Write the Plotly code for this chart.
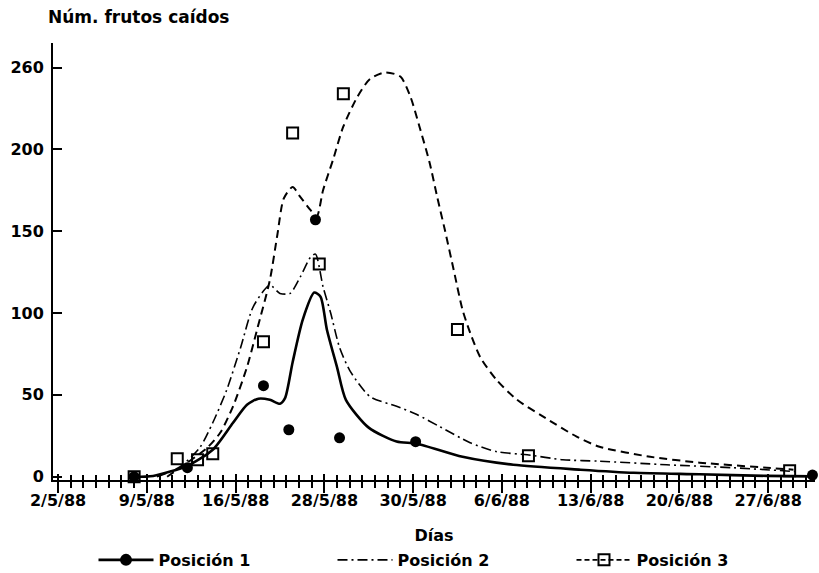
import plotly.graph_objects as go

# ---- axis labels ----
tick_days = [0, 7, 14, 21, 28, 35, 42, 49, 56]
tick_labels = ["2/5/88", "9/5/88", "16/5/88", "28/5/88", "30/5/88",
               "6/6/88", "13/6/88", "20/6/88", "27/6/88"]
y_tickvals = [0, 50, 100, 150, 200, 250]
y_ticktext = ["0", "50", "100", "150", "200", "260"]

# ---- observed points (day since 2/5/88, number of fallen fruits) ----
p1_days = [6.0, 10.2, 16.2, 18.2, 20.3, 22.2, 28.2, 59.5]
p1_vals = [0, 5.5, 55.6, 28.7, 157, 23.8, 21.4, 1]

p3_days = [6.0, 9.4, 11.0, 12.2, 16.2, 18.5, 20.6, 22.5, 28.7, 31.5, 37.1, 57.7]
p3_vals = [0, 11, 10.4, 14, 82.5, 210, 130, 234, 268, 90, 12.8, 3.7]

# ---- fitted curves ----
c1_days = [5.7, 7.5, 10.2, 12.2, 13.8, 14.9, 15.8, 16.7, 17.5, 17.9, 18.5, 19.3,
           20.2, 20.7, 21.2, 22.0, 22.7, 24.5, 26.7, 28.3, 31.9, 35.9, 41.2,
           45.4, 50.6, 55.9, 59.5]
c1_vals = [0, 0.5, 6.7, 16.5, 33, 44, 47.7, 47, 44.6, 48, 70, 96,
           112.5, 110, 90, 67, 47, 30, 21.5, 20.2, 12.2, 7.3, 4.3,
           2.4, 1.5, 0.5, 0.2]

c2_days = [7.8, 9.6, 11.2, 12.2, 13.3, 14.4, 15.4, 16.7, 17.5, 18.3, 19.1, 19.9,
           20.3, 20.9, 21.5, 22.2, 23.0, 24.6, 26.7, 28.3, 30.1, 32.5, 34.6,
           37.0, 39.8, 42.7, 48.0, 53.2, 58.5]
c2_vals = [0, 6, 18, 33, 53, 79, 104, 117, 112, 112, 122, 134,
           136, 116, 100, 79, 65, 49, 43, 38, 30.6, 20.8, 15.3,
           13.4, 10.4, 9.5, 7.3, 5.5, 3]

c3_days = [8.6, 10.2, 11.8, 12.8, 13.8, 14.9, 15.7, 16.7, 17.3, 17.8, 18.5, 19.1,
           19.9, 20.4, 20.9, 21.7, 22.5, 23.6, 24.6, 25.8, 27.0, 27.8, 28.5,
           29.3, 29.9, 30.5, 31.2, 31.9, 32.5, 33.3, 34.6, 36.2, 38.2, 40.9,
           42.7, 46.7, 50.6, 55.9, 58.0]
c3_vals = [0, 8.6, 18, 27, 43, 67, 90, 120, 148, 170, 177, 171,
           163, 159, 175, 194, 214, 232, 243, 247, 244.5, 232, 214,
           192, 171, 151, 126.5, 102, 88, 73, 59, 47, 37, 24.5,
           18.3, 12.2, 8.6, 5.5, 4.3]

series_names = ["Posición 1", "Posición 2", "Posición 3"]

FONT = "DejaVu Sans"
BLACK = "black"
DASHDOT = "10px,4px,2px,4px"
DASH = "8px,5px"

fig = go.Figure()

# curves
fig.add_trace(go.Scatter(x=c1_days, y=c1_vals, mode="lines", showlegend=False,
                         line=dict(color=BLACK, width=2.6, shape="spline", smoothing=0.7)))
fig.add_trace(go.Scatter(x=c2_days, y=c2_vals, mode="lines", showlegend=False,
                         line=dict(color=BLACK, width=1.6, dash=DASHDOT,
                                   shape="spline", smoothing=0.7)))
fig.add_trace(go.Scatter(x=c3_days, y=c3_vals, mode="lines", showlegend=False,
                         line=dict(color=BLACK, width=2, dash=DASH,
                                   shape="spline", smoothing=0.7)))

# observed points
fig.add_trace(go.Scatter(x=p3_days, y=p3_vals, mode="markers", showlegend=False,
                         cliponaxis=False,
                         marker=dict(symbol="square-open", size=11, color=BLACK,
                                     line=dict(width=2, color=BLACK))))
fig.add_trace(go.Scatter(x=p1_days, y=p1_vals, mode="markers", showlegend=False,
                         cliponaxis=False,
                         marker=dict(symbol="circle", size=11, color=BLACK)))

# legend entries
fig.add_trace(go.Scatter(x=[None], y=[None], mode="lines+markers", name=series_names[0],
                         line=dict(color=BLACK, width=2.6),
                         marker=dict(symbol="circle", size=12, color=BLACK)))
fig.add_trace(go.Scatter(x=[None], y=[None], mode="lines", name=series_names[1],
                         line=dict(color=BLACK, width=1.6, dash=DASHDOT)))
fig.add_trace(go.Scatter(x=[None], y=[None], mode="lines+markers", name=series_names[2],
                         line=dict(color=BLACK, width=1.6, dash="5px,3px"),
                         marker=dict(symbol="square-open", size=11, color=BLACK,
                                     line=dict(width=2, color=BLACK))))

fig.update_layout(
    width=819, height=573,
    margin=dict(l=53, r=4, t=43, b=93, autoexpand=False),
    paper_bgcolor="white", plot_bgcolor="white",
    font=dict(family=FONT, size=16, color=BLACK, weight="bold"),
    title=dict(text="Núm. frutos caídos", x=48 / 819, xanchor="left",
               y=1 - 17 / 573, yanchor="middle",
               font=dict(family=FONT, size=17, color=BLACK, weight="bold")),
    xaxis=dict(range=[-0.4, 59.7], tickmode="array", tickvals=tick_days,
               ticktext=tick_labels, ticks="outside", ticklen=11, tickwidth=2,
               tickcolor=BLACK, showline=True, linecolor=BLACK, linewidth=2,
               showgrid=False, zeroline=False, ticklabelstandoff=-6,
               automargin=False,
               minor=dict(tick0=0, dtick=1, ticks="outside", ticklen=6,
                          tickwidth=1.5, tickcolor=BLACK, showgrid=False),
               title=dict(text="Días", standoff=21,
                          font=dict(family=FONT, size=16, color=BLACK, weight="bold"))),
    xaxis2=dict(overlaying="x", anchor="y", side="bottom", range=[-0.4, 59.7],
                tickmode="array", tickvals=tick_days, showticklabels=False,
                ticks="inside", ticklen=6, tickwidth=2, tickcolor=BLACK,
                showline=False, showgrid=False, zeroline=False,
                minor=dict(tick0=0, dtick=1, ticks="inside", ticklen=5,
                           tickwidth=1.5, tickcolor=BLACK, showgrid=False)),
    yaxis=dict(range=[-2, 265], tickmode="array", tickvals=y_tickvals,
               ticktext=y_ticktext, ticks="inside", ticklen=9, tickwidth=2,
               tickcolor=BLACK, showline=True, linecolor=BLACK, linewidth=2,
               showgrid=False, zeroline=False, ticklabelstandoff=4,
               automargin=False),
    legend=dict(orientation="h", x=(452 - 53) / 762, xanchor="center",
                y=-0.183, yanchor="middle",
                itemwidth=55, entrywidth=169,
                font=dict(family=FONT, size=16, color=BLACK, weight="bold"),
                bgcolor="rgba(0,0,0,0)"),
)

# anchor trace for the overlay axis so the ticks are drawn
fig.add_trace(go.Scatter(x=[None], y=[None], xaxis="x2", showlegend=False,
                         hoverinfo="skip"))

fig.write_html("out.html")
